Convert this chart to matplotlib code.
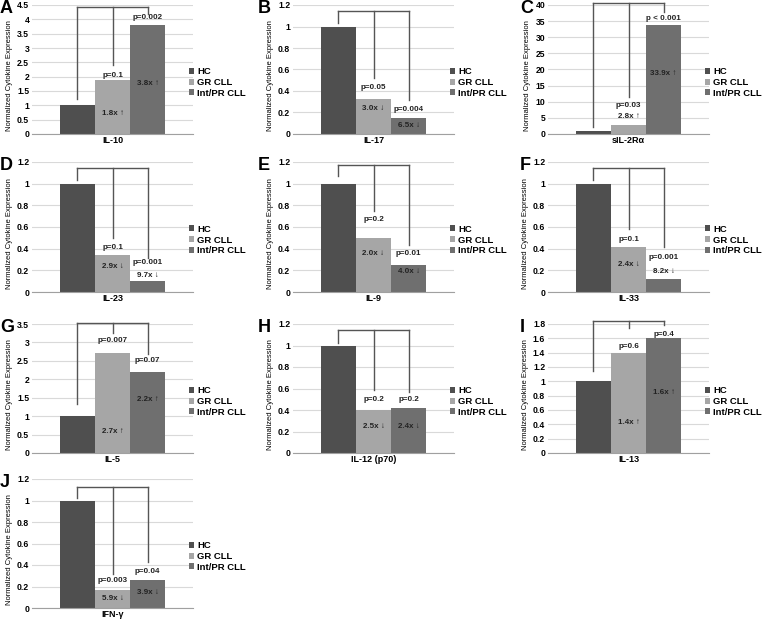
import matplotlib
matplotlib.use("Agg")
import matplotlib.pyplot as plt

plt.rcParams['font.family'] = ['Liberation Sans', 'DejaVu Sans']

# data
letters = ["A", "B", "C", "D", "E", "F", "G", "H", "I", "J"]
cytokines = ["IL-10", "IL-17", "sIL-2Rα", "IL-23", "IL-9", "IL-33",
             "IL-5", "IL-12 (p70)", "IL-13", "IFN-γ"]
hc = [1, 1, 1, 1, 1, 1, 1, 1, 1, 1]
gr_cll = [1.88, 0.33, 2.8, 0.34, 0.5, 0.42, 2.7, 0.40, 1.4, 0.17]
int_pr_cll = [3.8, 0.15, 33.9, 0.10, 0.25, 0.12, 2.2, 0.42, 1.6, 0.26]
p_gr = ["p=0.1", "p=0.05", "p=0.03", "p=0.1", "p=0.2", "p=0.1",
        "p=0.007", "p=0.2", "p=0.6", "p=0.003"]
p_int = ["p=0.002", "p=0.004", "p < 0.001", "p=0.001", "p=0.01", "p=0.001",
         "p=0.07", "p=0.2", "p=0.4", "p=0.04"]
fold_gr = ["1.8x ↑", "3.0x ↓", "2.8x ↑", "2.9x ↓", "2.0x ↓", "2.4x ↓",
           "2.7x ↑", "2.5x ↓", "1.4x ↑", "5.9x ↓"]
fold_int = ["3.8x ↑", "6.5x ↓", "33.9x ↑", "9.7x ↓", "4.0x ↓", "8.2x ↓",
            "2.2x ↑", "2.4x ↓", "1.6x ↑", "3.9x ↓"]
y_max = [4.5, 1.2, 40, 1.2, 1.2, 1.2, 3.5, 1.2, 1.8, 1.2]
y_step = [0.5, 0.2, 5, 0.2, 0.2, 0.2, 0.5, 0.2, 0.2, 0.2]
groups = ["HC", "GR CLL", "Int/PR CLL"]

# annotation layout (data units): bracket top, drop ends HC/GR/Int,
# p label y GR/Int, fold label y GR/Int
ann = [
    (4.42, 1.22, 2.41, 4.19, 2.03, 4.07, 0.71, 1.75),
    (1.14, 1.03, 0.525, 0.316, 0.43, 0.224, 0.24, 0.077),
    (40.7, 2.2, 11.5, 37.9, 8.8, 35.75, 5.5, 18.65),
    (1.145, 1.03, 0.50, 0.31, 0.415, 0.27, 0.237, 0.154),
    (1.175, 1.07, 0.75, 0.43, 0.67, 0.357, 0.354, 0.185),
    (1.14, 1.03, 0.585, 0.415, 0.483, 0.323, 0.255, 0.185),
    (3.52, 1.34, 3.25, 2.68, 3.06, 2.5, 0.59, 1.45),
    (1.14, 1.02, 0.586, 0.57, 0.497, 0.497, 0.247, 0.247),
    (1.84, 1.14, 1.74, 1.78, 1.48, 1.66, 0.42, 0.84),
    (1.13, 1.02, 0.32, 0.43, 0.26, 0.34, 0.09, 0.144),
]

colors = ["#4f4f4f", "#a6a6a6", "#6f6f6f"]
W, H = 771, 620
col_left = [32, 293, 548]
col_width = 161
row_top = [5, 162, 324, 479]
row_bot = [134, 292, 453, 608]
letter_dx = [32, 35, 28]

fig = plt.figure(figsize=(W / 100, H / 100), dpi=100)

w = 0.2174
for i in range(len(letters)):
    r, c = divmod(i, 3)
    ax = fig.add_axes([col_left[c] / W, 1 - row_bot[r] / H,
                       col_width / W, (row_bot[r] - row_top[r]) / H])
    vals = [hc[i], gr_cll[i], int_pr_cll[i]]
    xs = [-w, 0, w]
    for x, v, col, g in zip(xs, vals, colors, groups):
        ax.bar(x, v, width=w, color=col, label=g, zorder=2)

    ax.set_xlim(-0.5, 0.5)
    ax.set_ylim(0, y_max[i])
    n = int(round(y_max[i] / y_step[i]))
    ticks = [k * y_step[i] for k in range(n + 1)]
    ax.set_yticks(ticks)
    ax.set_yticklabels(["%g" % round(t, 2) for t in ticks],
                       fontsize=6.2, fontweight="bold")
    ax.set_xticks([0])
    ax.set_xticklabels([cytokines[i]], fontsize=6.5, fontweight="bold")
    ax.tick_params(axis="y", length=0, pad=2)
    ax.tick_params(axis="x", length=0, pad=1.5)
    ax.grid(axis="y", color="#d9d9d9", lw=0.8, zorder=0)
    for s in ["top", "right", "left"]:
        ax.spines[s].set_visible(False)
    ax.spines["bottom"].set_color("#a0a0a0")
    ax.spines["bottom"].set_linewidth(0.8)
    ax.set_ylabel("Normalized Cytokine Expression", fontsize=5.5, labelpad=3)
    ax.yaxis.label.set_y(0.45)

    bt, h0, g0, i0, gp, ip, gf, fi = ann[i]
    lc = "#555555"
    ax.plot([-w, w], [bt, bt], color=lc, lw=1, clip_on=False, zorder=3)
    for x, y0 in zip(xs, [h0, g0, i0]):
        ax.plot([x, x], [y0, bt], color=lc, lw=1, clip_on=False, zorder=3)
    tk = dict(ha="center", va="center", fontsize=5.8, fontweight="bold",
              color="#222222", zorder=4)
    ax.text(0, gp, p_gr[i], **tk)
    ax.text(w, ip, p_int[i], **tk)
    ax.text(0, gf, fold_gr[i], **tk)
    ax.text(w, fi, fold_int[i], **tk)

    leg = ax.legend(loc="center left", bbox_to_anchor=(0.95, 0.4),
                    frameon=False, fontsize=6.8, handlelength=0.6,
                    handleheight=0.6, handletextpad=0.3, labelspacing=0.2,
                    borderaxespad=0)
    for t in leg.get_texts():
        t.set_fontweight("bold")

    fig.text((col_left[c] - letter_dx[c]) / W, 1 - (row_top[r] - 5) / H,
             letters[i], fontsize=13, fontweight="bold", ha="left", va="top")

fig.savefig("out.png", dpi=100)
